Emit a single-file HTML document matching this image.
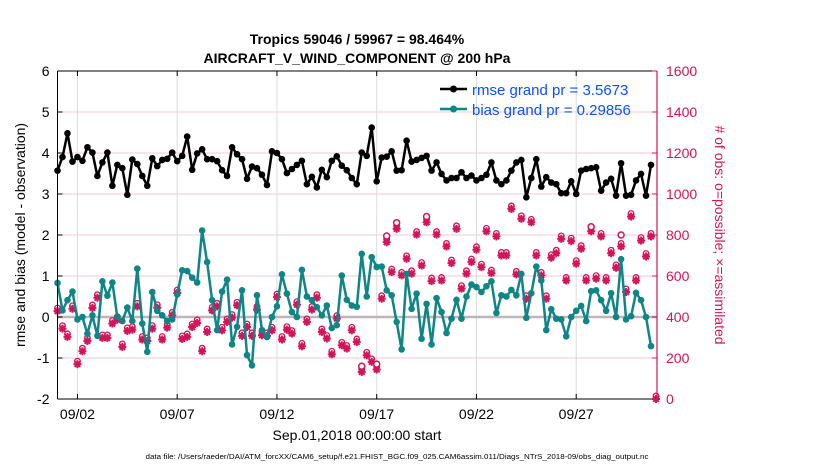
<!DOCTYPE html>
<html><head><meta charset="utf-8"><style>
html,body{margin:0;padding:0;background:#fff;}
svg{display:block;font-family:"Liberation Sans",Arial,sans-serif;}
</style></head><body>
<svg id="chart" width="830" height="470" viewBox="0 0 830 470" xmlns="http://www.w3.org/2000/svg">
<rect x="0" y="0" width="830" height="470" fill="#fff"/>
<g id="grid"></g>
<g id="marks"></g>
<g id="axes"></g>
<text x="357" y="44" text-anchor="middle" font-size="14" font-weight="bold">Tropics 59046 / 59967 = 98.464%</text>
<text x="357" y="63" text-anchor="middle" font-size="14" font-weight="bold">AIRCRAFT_V_WIND_COMPONENT @ 200 hPa</text>
<text transform="translate(25,235) rotate(-90)" text-anchor="middle" font-size="14">rmse and bias (model - observation)</text>
<text transform="translate(715,235) rotate(90)" text-anchor="middle" font-size="14" fill="#d4145a"># of obs: o=possible; ×=assimilated</text>
<text x="357" y="440" text-anchor="middle" font-size="14">Sep.01,2018 00:00:00 start</text>
<text x="397" y="459" text-anchor="middle" font-size="7" textLength="503" lengthAdjust="spacingAndGlyphs">data file: /Users/raeder/DAI/ATM_forcXX/CAM6_setup/f.e21.FHIST_BGC.f09_025.CAM6assim.011/Diags_NTrS_2018-09/obs_diag_output.nc</text>
<g>
<line x1="440" y1="89" x2="467" y2="89" stroke="#000" stroke-width="2.5"/>
<circle cx="453.5" cy="89" r="3.5" fill="#000"/>
<text x="472" y="95" font-size="15" fill="#0a50ff">rmse grand pr = 3.5673</text>
<line x1="440" y1="109" x2="467" y2="109" stroke="#0f8585" stroke-width="2.5"/>
<circle cx="453.5" cy="109" r="3.5" fill="#0f8585"/>
<text x="472" y="115" font-size="15" fill="#0a50ff">bias grand pr = 0.29856</text>
</g>
</svg>
<script>
const xTickLabels = ["09/02","09/07","09/12","09/17","09/22","09/27"];
const xTickDays = [1,6,11,16,21,26];
const leftTicks = [-2,-1,0,1,2,3,4,5,6];
const rightTicks = [0,200,400,600,800,1000,1200,1400,1600];
const rmse = [3.57,3.9,4.48,3.79,3.9,3.81,4.14,4.01,3.44,3.77,4.01,3.2,3.71,3.63,2.98,3.84,3.73,3.44,3.2,3.87,3.68,3.83,3.86,4.01,3.8,3.93,4.4,3.59,3.99,4.09,3.85,
3.85,3.8,3.58,3.44,4.14,3.97,3.85,3.37,3.67,3.63,3.47,3.22,4.04,4.0,3.85,3.51,3.61,3.71,3.81,3.24,3.42,3.16,3.59,3.41,3.81,3.92,3.69,3.58,3.39,3.24,
4.01,3.93,4.62,3.31,3.89,3.91,4.04,3.57,3.58,4.3,3.79,3.83,3.88,3.93,3.57,3.77,3.49,3.33,3.39,3.39,3.53,3.39,3.45,3.33,3.39,3.47,3.77,3.33,3.24,
3.33,3.57,3.77,3.83,2.92,3.39,3.85,3.18,3.41,3.28,3.24,3.02,3.02,3.31,3.0,3.57,3.61,3.63,3.65,3.08,3.28,3.37,2.96,3.75,2.96,2.98,3.33,3.49,2.96,3.71];
const bias = [0.83,0.16,0.41,0.62,-0.06,0,-0.41,0.04,-0.46,0.87,0.52,0.84,0,-0.1,0.23,-0.1,1.18,-0.16,-0.85,0.61,0.15,0.04,-0.1,-0.06,0.55,1.14,1.12,0.96,0.84,2.11,1.34,
0.41,-0.32,0.62,0.91,-0.67,-0.24,0.65,-0.93,-1.18,0.53,-0.32,-0.49,0,0.26,1.04,0.57,0.12,0,1.15,0.5,0.41,0.24,0.04,0.28,-0.27,-0.2,1.01,0.42,0.28,0.25,
1.54,0.5,1.46,1.22,1.23,0.65,0.53,-0.12,-0.79,1.05,0.2,0.57,-0.53,0.32,-0.67,0.46,0.12,-0.39,-0.04,0.42,-0.04,0.5,0.79,0.73,0.61,0.75,0.87,0.1,0.53,
0.5,0.66,0.53,1.05,-0.02,0.58,1.23,0.89,-0.32,0.19,-0.04,-0.06,-0.47,0,0.15,0.27,-0.1,0.63,0.65,0.41,0.15,0.58,0,1.41,-0.06,0.02,0.59,0.41,0,-0.71];
const obsCount = [429,343,303,440,170,233,283,444,494,298,298,368,387,254,332,338,452,290,283,343,445,290,348,408,517,293,303,351,371,233,327,
432,452,335,376,397,457,308,351,308,436,311,308,335,497,290,338,319,460,257,376,436,494,327,295,218,392,262,246,335,278,
132,213,181,144,489,765,619,830,603,684,611,802,651,862,575,802,578,744,663,830,538,611,668,728,643,818,614,793,700,
700,927,608,879,489,862,700,603,489,689,711,781,578,770,660,733,578,818,587,793,578,711,640,744,522,890,578,773,695,793,0];
const possibleOnly = [[66,795],[68,860],[74,890],[61,160],[64,170],[107,840],[113,800]];

const NS="http://www.w3.org/2000/svg";
const X0=57.5, PX_PER_DAY=19.95, YT=71, YB=399;
const xScale = d => X0 + d*PX_PER_DAY;
const yL = v => YB - (v+2)/8*(YB-YT);
const yR = c => YB - c/1600*(YB-YT);
const XR = 657;
function mk(tag, attrs, parent){const e=document.createElementNS(NS,tag);for(const k in attrs)e.setAttribute(k,attrs[k]);parent.appendChild(e);return e;}
const grid=document.getElementById('grid'), marks=document.getElementById('marks'), axes=document.getElementById('axes');

leftTicks.forEach(v=>{ if(v===-2||v===6||v===0) return;
  const l=mk('line',{x1:X0,x2:XR,y1:yL(v),y2:yL(v),stroke:'#f2c9d8','stroke-width':1},grid);
  
  
});
xTickDays.forEach(d=>{
  const l=mk('line',{x1:xScale(d),x2:xScale(d),y1:YT,y2:YB,stroke:'#dcdcdc','stroke-width':1},grid);
  
  
});
const zl=mk('line',{x1:X0,x2:XR,y1:yL(0),y2:yL(0),stroke:'#c0b4b8','stroke-width':2.5},grid);



// obs markers
function obsMarker(cx,cy,parent){
  const g=mk('g',{},parent);
  mk('circle',{cx:cx,cy:cy-3,r:2.8,fill:'none',stroke:'#d4145a','stroke-width':1.3},g);
  for(let a=0;a<4;a++){const ang=a*Math.PI/4;const dx=4*Math.cos(ang),dy=4*Math.sin(ang);
    mk('line',{x1:cx-dx,y1:cy-dy,x2:cx+dx,y2:cy+dy,stroke:'#d4145a','stroke-width':2},g);}
  mk('circle',{cx:cx,cy:cy,r:2.6,fill:'#d4145a'},g);
  return g;
}
obsCount.forEach((c,i)=>{
  const g=obsMarker(xScale(i*0.25),yR(c),marks);
  
  
});
possibleOnly.forEach(p=>{
  const c=mk('circle',{cx:xScale(p[0]*0.25),cy:yR(p[1]),r:3,fill:'#fff',stroke:'#d4145a','stroke-width':1.5},marks);
  
  
});

function series(vals,color,name){
  const pts=vals.map((v,i)=>xScale(i*0.25).toFixed(1)+','+yL(v).toFixed(1)).join(' ');
  const pl=mk('polyline',{points:pts,fill:'none',stroke:color,'stroke-width':2.5,'stroke-linejoin':'round'},marks);
  
  
  vals.forEach((v,i)=>{
    const c=mk('circle',{cx:xScale(i*0.25),cy:yL(v),r:3.3,fill:color},marks);
    
    
  });
}
series(bias,'#0f8585','bias');
series(rmse,'#000','rmse');

// axes
mk('line',{x1:X0,x2:XR,y1:YT,y2:YT,stroke:'#000','stroke-width':1},axes);
mk('line',{x1:X0,x2:XR,y1:YB,y2:YB,stroke:'#000','stroke-width':1},axes);
mk('line',{x1:X0,x2:X0,y1:YT,y2:YB,stroke:'#000','stroke-width':1},axes);
mk('line',{x1:XR,x2:XR,y1:YT,y2:YB,stroke:'#d4145a','stroke-width':1.2},axes);
leftTicks.forEach(v=>{
  mk('line',{x1:X0,x2:X0+5,y1:yL(v),y2:yL(v),stroke:'#000'},axes);
  const t=mk('text',{x:X0-8,y:yL(v)+5,'text-anchor':'end','font-size':14},axes);
  t.textContent=v;
  
  
});
rightTicks.forEach(c=>{
  mk('line',{x1:XR-5,x2:XR,y1:yR(c),y2:yR(c),stroke:'#d4145a'},axes);
  const t=mk('text',{x:XR+9,y:yR(c)+5,'font-size':14,fill:'#d4145a'},axes);
  t.textContent=c;
  
  
});
xTickDays.forEach((d,i)=>{
  mk('line',{x1:xScale(d),x2:xScale(d),y1:YB,y2:YB-5,stroke:'#000'},axes);
  mk('line',{x1:xScale(d),x2:xScale(d),y1:YT,y2:YT+5,stroke:'#000'},axes);
  const t=mk('text',{x:xScale(d),y:YB+20,'text-anchor':'middle','font-size':14},axes);
  t.textContent=xTickLabels[i];
  
  
});
</script>
</body></html>
